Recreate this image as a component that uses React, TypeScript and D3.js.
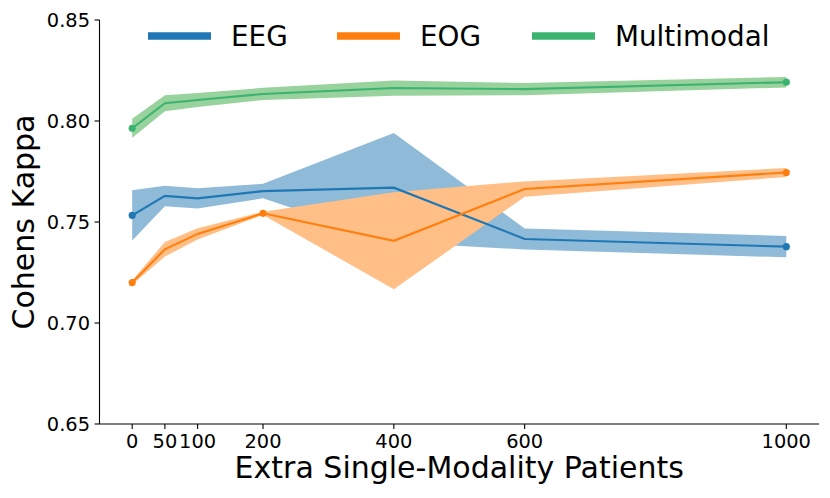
import React from "react";
import * as d3 from "d3";

const xValues = [0, 50, 100, 200, 400, 600, 1000];
const xTicks = [0, 50, 100, 200, 400, 600, 1000];
const yTicks = [0.65, 0.7, 0.75, 0.8, 0.85];

const eegMean = [0.7533, 0.7629, 0.7617, 0.7653, 0.767, 0.7416, 0.7378];
const eegStd = [0.0124, 0.0051, 0.005, 0.0036, 0.027, 0.0052, 0.0053];
const eogMean = [0.72, 0.7365, 0.7441, 0.7543, 0.7407, 0.7663, 0.7745];
const eogStd = [0.001, 0.0036, 0.0028, 0.0008, 0.024, 0.0038, 0.0022];
const mmMean = [0.7964, 0.8088, 0.8104, 0.8134, 0.8163, 0.8158, 0.8192];
const mmStd = [0.0047, 0.004, 0.0035, 0.003, 0.0038, 0.003, 0.0026];

const eegMarkers = [0, 6];
const eogMarkers = [0, 3, 6];
const mmMarkers = [0, 6];

const series = [
  { name: "EEG", mean: eegMean, std: eegStd, markers: eegMarkers, line: "#1f77b4", band: "#8fbbd9" },
  { name: "EOG", mean: eogMean, std: eogStd, markers: eogMarkers, line: "#ff7f0e", band: "#ffbf86" },
  { name: "Multimodal", mean: mmMean, std: mmStd, markers: mmMarkers, line: "#3cb371", band: "#98d29c" },
];

const W = 830;
const H = 498;
const left = 99.5;
const right = 819;
const top = 20;
const bottom = 424;
const font = "DejaVu Sans, sans-serif";

export default function App() {
  const x = d3.scaleLinear().domain([-50, 1050]).range([left, right]);
  const y = d3.scaleLinear().domain([0.65, 0.85]).range([bottom, top]);

  const makeArea = (mean: number[], std: number[]) =>
    d3
      .area<number>()
      .x((_, i) => x(xValues[i]))
      .y0((_, i) => y(mean[i] - std[i]))
      .y1((_, i) => y(mean[i] + std[i]))(mean) || "";

  const line = d3
    .line<number>()
    .x((_, i) => x(xValues[i]))
    .y((d) => y(d));

  const legendX = [148, 337, 532];

  return (
    <svg width={W} height={H} style={{ position: "absolute", left: 0, top: 0, background: "#fff" }} fontFamily={font}>
      {series.map((s) => (
        <path key={s.name + "b"} d={makeArea(s.mean, s.std)} fill={s.band} stroke="none" />
      ))}
      {series.map((s) => (
        <g key={s.name + "l"}>
          <path d={line(s.mean) || ""} fill="none" stroke={s.line} strokeWidth={2.1} />
          {s.markers.map((i) => (
            <circle key={i} cx={x(xValues[i])} cy={y(s.mean[i])} r={3.6} fill={s.line} />
          ))}
        </g>
      ))}
      <line x1={left} x2={left} y1={top} y2={bottom} stroke="#000" strokeWidth={1.1} />
      <line x1={left} x2={right} y1={bottom} y2={bottom} stroke="#000" strokeWidth={1.1} />
      {yTicks.map((t) => (
        <g key={t}>
          <line x1={left - 4.9} x2={left} y1={y(t)} y2={y(t)} stroke="#000" strokeWidth={1.1} />
          <text x={left - 9.5} y={y(t)} dy="0.36em" textAnchor="end" fontSize={19.4} fill="#000">
            {d3.format(".2f")(t)}
          </text>
        </g>
      ))}
      {xTicks.map((t) => (
        <g key={t}>
          <line x1={x(t)} x2={x(t)} y1={bottom} y2={bottom + 4.9} stroke="#000" strokeWidth={1.1} />
          <text x={x(t)} y={448} textAnchor="middle" fontSize={19.4} fill="#000">
            {t}
          </text>
        </g>
      ))}
      <text x={(left + right) / 2} y={477.5} textAnchor="middle" fontSize={30} fill="#000">
        Extra Single-Modality Patients
      </text>
      <text transform={`translate(34,${(top + bottom) / 2}) rotate(-90)`} textAnchor="middle" fontSize={30} fill="#000">
        Cohens Kappa
      </text>
      {series.map((s, i) => (
        <g key={s.name + "leg"}>
          <line x1={legendX[i]} x2={legendX[i] + 63} y1={36} y2={36} stroke={s.line} strokeWidth={7.5} />
          <text x={legendX[i] + 83} y={46} fontSize={27.8} fill="#000">
            {s.name}
          </text>
        </g>
      ))}
    </svg>
  );
}
